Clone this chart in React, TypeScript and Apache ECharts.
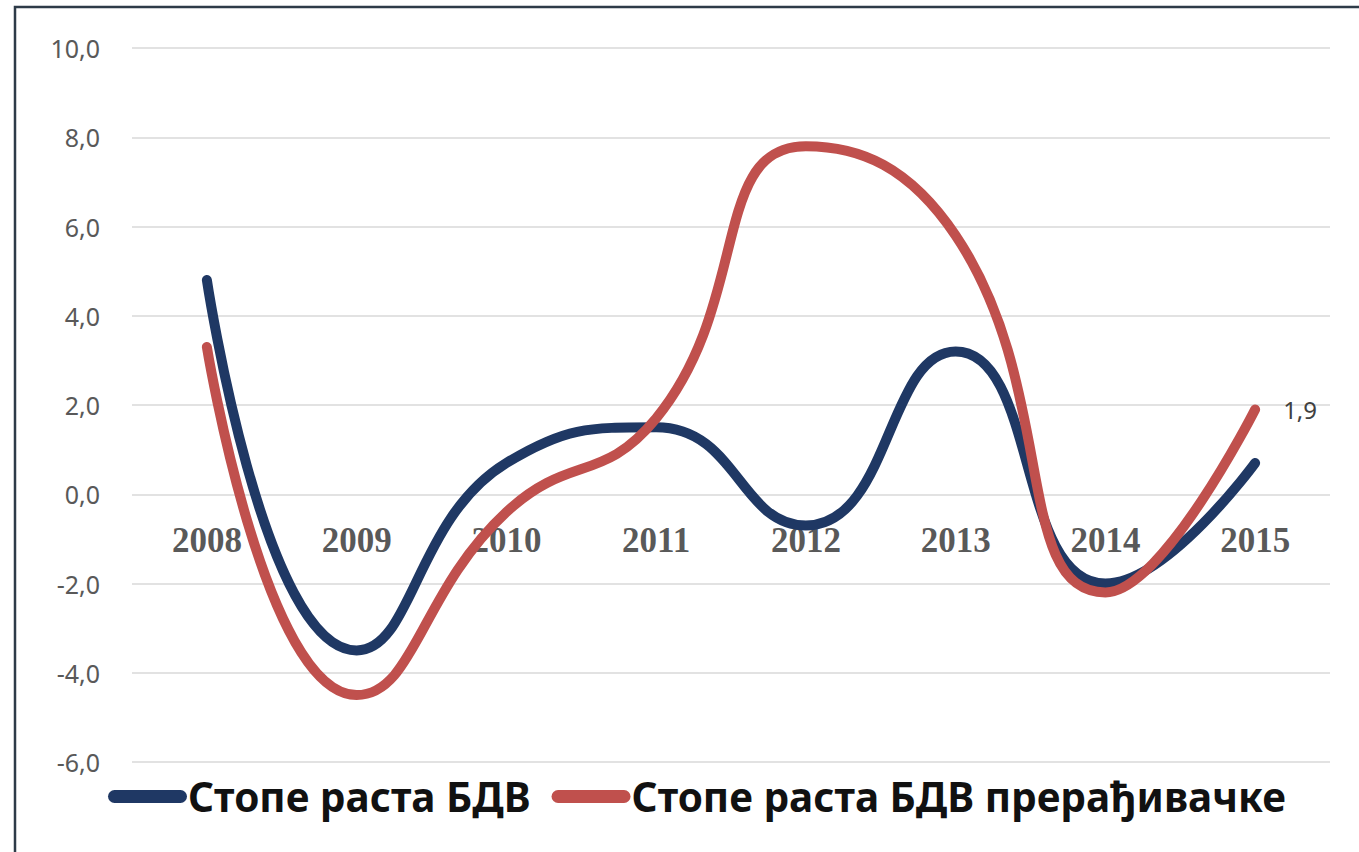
import React, { useEffect, useRef } from "react";
import * as echarts from "echarts";

const years = ["2008", "2009", "2010", "2011", "2012", "2013", "2014", "2015"];
const seriesNames = ["Стопе раста БДВ", "Стопе раста БДВ прерађивачке"];
const bdvGrowth = [4.8, -3.5, 0.7, 1.5, -0.7, 3.2, -2.0, 0.7];
const manufacturingGrowth = [3.3, -4.5, -0.4, 1.7, 7.8, 5.8, -2.2, 1.9];
const yMin = -6;
const yMax = 10;
const yStep = 2;

const fmt = (v: number) => v.toFixed(1).replace(".", ",");

export default function App() {
  const ref = useRef<HTMLDivElement>(null);
  useEffect(() => {
    if (!ref.current) return;
    const chart = echarts.init(ref.current, undefined, { renderer: "svg" });
    const gridTop = 48;
    const gridBottom = 90;
    const gridH = 852 - gridTop - gridBottom;
    const zeroOffset = (gridH * (0 - yMin)) / (yMax - yMin);
    chart.setOption({
      animation: false,
      backgroundColor: "#ffffff",
      graphic: [
        {
          type: "rect",
          shape: { x: 15, y: 7, width: 1400, height: 900 },
          style: { fill: "none", stroke: "#2e3b48", lineWidth: 2.5 },
          silent: true,
        },
      ],
      grid: { left: 132, right: 29, top: gridTop, bottom: gridBottom },
      legend: {
        left: 103,
        top: 771,
        itemWidth: 79,
        itemHeight: 13,
        itemGap: 21,
        icon: "path://M6.5,0 H72.5 A6.5,6.5 0 0 1 72.5,13 H6.5 A6.5,6.5 0 0 1 6.5,0 Z",
        textStyle: {
          fontFamily: "Noto Sans",
          fontWeight: "bold",
          fontSize: 40.5,
          color: "#111111",
          padding: [0, 0, 0, -4],
        },
        data: seriesNames,
      },
      xAxis: {
        type: "category",
        data: years,
        boundaryGap: true,
        position: "bottom",
        offset: -zeroOffset,
        axisLine: { show: false, onZero: false },
        axisTick: { show: false },
        axisLabel: {
          margin: 29,
          fontFamily: "Liberation Serif",
          fontWeight: "bold",
          fontSize: 35,
          color: "#595959",
        },
        z: 1,
      },
      yAxis: {
        type: "value",
        min: yMin,
        max: yMax,
        interval: yStep,
        axisLine: { show: false },
        axisTick: { show: false },
        splitLine: { lineStyle: { color: "#d9d9d9", width: 1.5 } },
        axisLabel: {
          margin: 32,
          fontFamily: "Noto Sans",
          fontSize: 25,
          color: "#595959",
          formatter: (v: number) => fmt(v),
        },
      },
      series: [
        {
          name: seriesNames[0],
          type: "line",
          data: bdvGrowth,
          smooth: 0.5,
          showSymbol: false,
          symbol: "none",
          lineStyle: { color: "#1f3864", width: 10, cap: "round" },
          itemStyle: { color: "#1f3864" },
          z: 3,
        },
        {
          name: seriesNames[1],
          type: "line",
          data: manufacturingGrowth,
          smooth: 0.5,
          showSymbol: false,
          symbol: "none",
          lineStyle: { color: "#c0504d", width: 10, cap: "round" },
          itemStyle: { color: "#c0504d" },
          endLabel: {
            show: true,
            distance: 28,
            formatter: (p: any) => fmt(p.value),
            fontFamily: "Noto Sans",
            fontSize: 24,
            color: "#404040",
          },
          z: 4,
        },
      ],
    });
    return () => chart.dispose();
  }, []);
  return (
    <div
      ref={ref}
      style={{ position: "fixed", left: 0, top: 0, width: 1359, height: 852 }}
    />
  );
}
